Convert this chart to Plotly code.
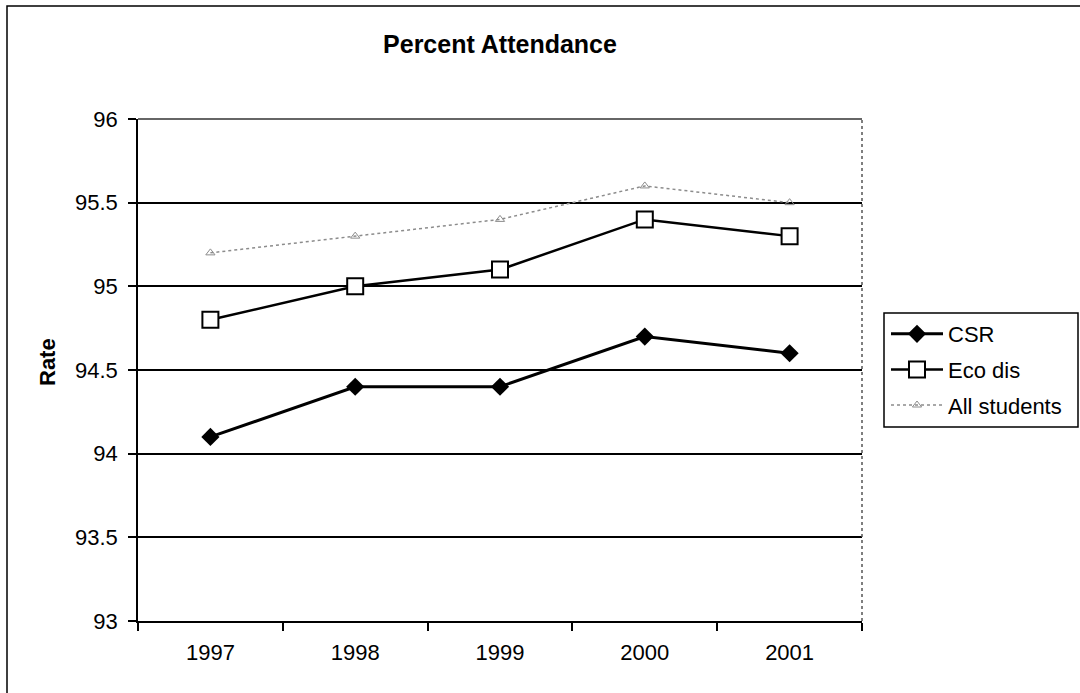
import plotly.graph_objects as go

# School years and attendance rates (%)
years = ["1997", "1998", "1999", "2000", "2001"]
csr = [94.1, 94.4, 94.4, 94.7, 94.6]
eco_dis = [94.8, 95.0, 95.1, 95.4, 95.3]
all_students = [95.2, 95.3, 95.4, 95.6, 95.5]

y_ticks = [93, 93.5, 94, 94.5, 95, 95.5, 96]

W, H = 1080, 693
L, R, T, B = 138, 218, 119, 72
PW, PH = W - L - R, H - T - B


def px_x(x):
    return (x - L) / PW


def px_y(y):
    return (H - B - y) / PH


FONT = "Liberation Sans, Arial, sans-serif"

fig = go.Figure()

fig.add_trace(go.Scatter(
    x=years, y=csr, name="CSR", mode="lines+markers",
    line=dict(color="black", width=3),
    marker=dict(symbol="diamond", size=14, color="black"),
    legendgroup="a",
))
fig.add_trace(go.Scatter(
    x=years, y=eco_dis, name="Eco dis", mode="lines+markers",
    line=dict(color="black", width=2.5),
    marker=dict(symbol="square", size=16, color="white",
                line=dict(color="black", width=2)),
    legendgroup="b",
))
fig.add_trace(go.Scatter(
    x=years, y=all_students, name="All students", mode="lines+markers",
    line=dict(color="#8c8c8c", width=1.5, dash="dot"),
    marker=dict(symbol="triangle-up-open", size=8, color="#8c8c8c",
                line=dict(width=1)),
    legendgroup="c",
))

fig.update_layout(
    width=W, height=H,
    margin=dict(l=L, r=R, t=T, b=B),
    paper_bgcolor="white", plot_bgcolor="white",
    font=dict(family=FONT, size=22, color="black"),
    title=dict(text="<b>Percent Attendance</b>", x=px_x(500), xref="paper",
               xanchor="center", y=1 - 44 / H, yanchor="middle",
               font=dict(size=25)),
    showlegend=True,
    legend=dict(x=px_x(886), y=px_y(313), xanchor="left", yanchor="top",
                bgcolor="rgba(0,0,0,0)", borderwidth=0, itemwidth=52,
                tracegroupgap=4, font=dict(size=22)),
    xaxis=dict(
        type="category", range=[-0.5, 4.5], tickson="boundaries",
        ticks="outside", ticklen=8, tickwidth=1.5, tickcolor="black",
        showline=True, linecolor="black", linewidth=1.5,
        showgrid=False, tickfont=dict(size=22), fixedrange=True,
        ticklabelstandoff=11,
    ),
    yaxis=dict(
        range=[93, 96], tickvals=y_ticks,
        ticktext=[f"{v:g}" for v in y_ticks],
        ticks="outside", ticklen=8, tickwidth=1.5, tickcolor="black",
        showline=True, linecolor="black", linewidth=1.5,
        showgrid=True, gridcolor="black", gridwidth=1.5,
        zeroline=False, tickfont=dict(size=22), ticklabelstandoff=6,
    ),
    annotations=[dict(
        text="<b>Rate</b>", textangle=-90, xref="paper", yref="paper",
        x=px_x(47), y=px_y(362), xanchor="center", yanchor="middle",
        showarrow=False, font=dict(size=22),
    )],
    shapes=[
        # outer chart frame
        dict(type="rect", xref="paper", yref="paper",
             x0=px_x(7), x1=px_x(1090), y0=px_y(6), y1=px_y(710),
             line=dict(color="black", width=1.5)),
        # top edge of the plot area
        dict(type="line", xref="paper", yref="paper",
             x0=0, x1=1, y0=1, y1=1,
             line=dict(color="#333333", width=1.5)),
        # right edge of the plot area
        dict(type="line", xref="paper", yref="paper",
             x0=1, x1=1, y0=0, y1=1,
             line=dict(color="#555555", width=1.5, dash="dot")),
        # legend frame
        dict(type="rect", xref="paper", yref="paper",
             x0=px_x(884), x1=px_x(1078), y0=px_y(427), y1=px_y(313),
             line=dict(color="black", width=1.5)),
    ],
)

fig.write_html("out.html")
